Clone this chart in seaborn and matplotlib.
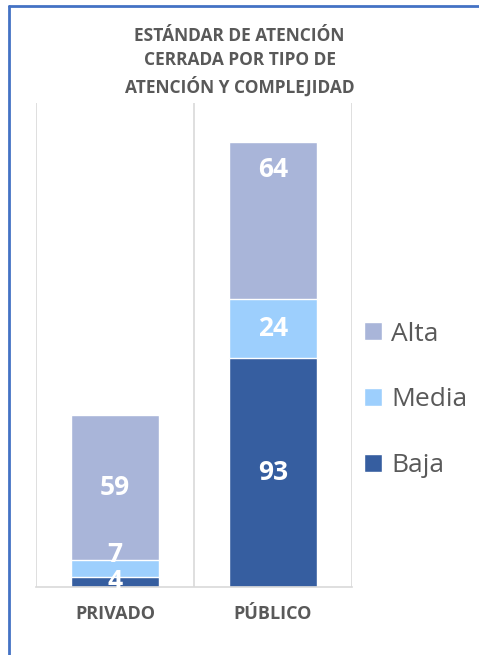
import numpy as np
import pandas as pd
import matplotlib.pyplot as plt
import seaborn as sns
from matplotlib.lines import Line2D

categorias = ['PRIVADO', 'PÚBLICO']
baja = [4, 93]
media = [7, 24]
alta = [59, 64]
titulo = 'ESTÁNDAR DE ATENCIÓN\nCERRADA POR TIPO DE\nATENCIÓN Y COMPLEJIDAD'

c_baja = '#365EA0'
c_media = '#9DCFFD'
c_alta = '#A9B5D9'
gris = '#595959'

sns.set_style('white')
plt.rcParams['font.family'] = ['Open Sans', 'DejaVu Sans']

df = pd.DataFrame({'cat': categorias, 'Baja': baja, 'Media': media, 'Alta': alta})
df['bm'] = df['Baja'] + df['Media']
df['total'] = df['bm'] + df['Alta']

fig = plt.figure(figsize=(4.79, 6.55), dpi=100)
ax = fig.add_axes([0.075, 0.104, 0.66, 0.739])

# stacked by overlaying cumulative totals
sns.barplot(data=df, x='cat', y='total', color=c_alta, width=0.56, saturation=1, ax=ax, label='Alta')
sns.barplot(data=df, x='cat', y='bm', color=c_media, width=0.56, saturation=1, ax=ax, label='Media')
sns.barplot(data=df, x='cat', y='Baja', color=c_baja, width=0.56, saturation=1, ax=ax, label='Baja')
h, l = ax.get_legend_handles_labels()
if ax.get_legend() is not None:
    ax.get_legend().remove()

ax.set_ylim(0, 197)
ax.set_xlim(-0.5, 1.5)
ax.set_xlabel('')
ax.set_ylabel('')
ax.set_yticks([])
ax.tick_params(axis='x', length=0, pad=13)
ax.set_xticks(range(len(categorias)))
ax.set_xticklabels(categorias, fontsize=13, fontweight='bold', color=gris)
for s in ['top', 'right', 'left']:
    ax.spines[s].set_visible(False)
ax.spines['bottom'].set_color('#D9D9D9')
ax.spines['bottom'].set_linewidth(1.2)
for xv in [-0.5, 0.5, 1.5]:
    ax.axvline(xv, color='#D9D9D9', lw=1.2, zorder=0)

# data labels
for i in range(len(categorias)):
    yb = df['Baja'][i] / 2
    ym = df['Baja'][i] + df['Media'][i] / 2
    ya = df['bm'][i] + df['Alta'][i] / 2
    if df['Media'][i] < 10:
        ym = max(ym, yb + 11)
    if i == 1:
        ya = df['total'][i] - 11
    for v, y in [(df['Baja'][i], yb), (df['Media'][i], ym), (df['Alta'][i], ya)]:
        ax.text(i, y, str(v), ha='center', va='center', color='white',
                fontsize=19, fontweight='bold')

fig.legend(h, l, loc='center left', bbox_to_anchor=(364 / 479, 1 - 400 / 655),
           bbox_transform=fig.transFigure, frameon=False, borderpad=0,
           borderaxespad=0, fontsize=19, labelcolor=gris, handlelength=0.68,
           handleheight=0.68, handletextpad=0.35, labelspacing=1.55)

fig.text(0.5, 1 - 62 / 655, titulo, ha='center', va='center', fontsize=12.5,
         fontweight='bold', color=gris, linespacing=1.45)

# partial blue frame
x0, y0 = 9 / 479, 1 - 6 / 655
fig.add_artist(Line2D([x0, x0], [0, y0], transform=fig.transFigure, color='#4472C4', lw=2))
fig.add_artist(Line2D([x0, 1], [y0, y0], transform=fig.transFigure, color='#4472C4', lw=2))

fig.savefig('out.png', dpi=100)
